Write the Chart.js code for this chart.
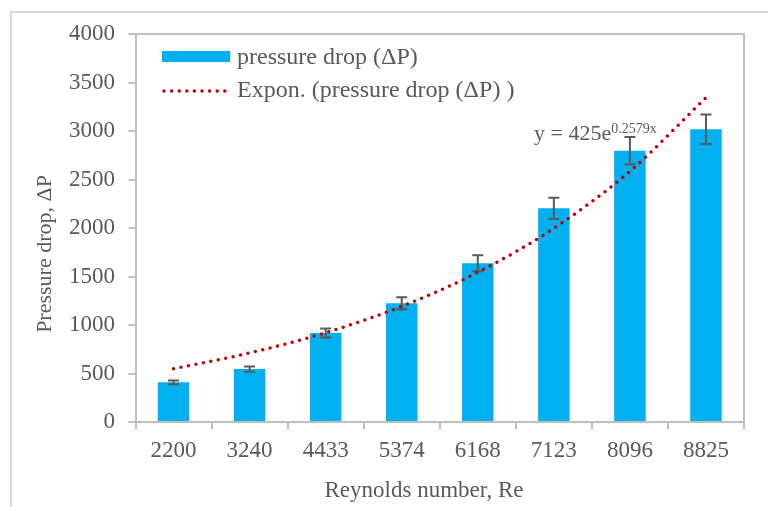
<!DOCTYPE html>
<html>
<head>
<meta charset="utf-8">
<script src="https://cdn.jsdelivr.net/npm/chart.js@4/dist/chart.umd.min.js"></script>
<style>
  html, body { margin: 0; padding: 0; background: #ffffff; }
  #wrap { position: relative; width: 768px; height: 507px; overflow: hidden; }
  canvas { position: absolute; left: 0; top: 0; }
</style>
</head>
<body>
<div id="wrap"><canvas id="chart" width="768" height="507"></canvas></div>
<script>
// Reynolds numbers (categories)
const reynolds = ['2200', '3240', '4433', '5374', '6168', '7123', '8096', '8825'];
// Measured pressure drop for each Reynolds number
const pressureDrop = [409, 546, 918, 1224, 1637, 2203, 2797, 3018];
// Error bar half-heights
const pressureError = [20, 27, 46, 61, 82, 110, 140, 151];
// Exponential trendline evaluated at each category
const trendValues = [550, 712, 921, 1192, 1543, 1997, 2585, 3345];
// Y axis range
const yMin = 0;
const yMax = 4000;
const yStep = 500;
// Text
const seriesLabel = 'pressure drop (\u0394P)';
const trendLabel = 'Expon. (pressure drop (\u0394P) )';
const equationMain = 'y = 425e';
const equationExp = '0.2579x';
const xTitle = 'Reynolds number, Re';
const yTitle = 'Pressure drop, \u0394P';

const FONT = '"Liberation Serif", "Times New Roman", Times, serif';
const TEXT = '#595959';
const AXIS = '#bfbfbf';
const BAR = '#00b0f0';
const TREND = '#c00000';

// Background, outer frame and plot-area box
const framePlugin = {
  id: 'frame',
  beforeDraw(chart) {
    const ctx = chart.ctx;
    ctx.save();
    ctx.fillStyle = '#ffffff';
    ctx.fillRect(0, 0, chart.width, chart.height);
    ctx.strokeStyle = '#d9d9d9';
    ctx.lineWidth = 2;
    ctx.beginPath();
    ctx.moveTo(11, chart.height + 2);
    ctx.lineTo(11, 12);
    ctx.lineTo(chart.width + 2, 12);
    ctx.stroke();
    ctx.restore();
  },
  afterDraw(chart) {
    const a = chart.chartArea;
    const ctx = chart.ctx;
    ctx.save();
    ctx.strokeStyle = AXIS;
    ctx.lineWidth = 2;
    ctx.beginPath();
    ctx.moveTo(a.left, a.top);
    ctx.lineTo(a.right, a.top);
    ctx.lineTo(a.right, a.bottom);
    ctx.stroke();
    ctx.restore();
  }
};

// Error bars on the bar series
const errorBarPlugin = {
  id: 'errorBars',
  afterDatasetDraw(chart, args) {
    if (args.index !== 0) return;
    const ctx = chart.ctx;
    const y = chart.scales.y;
    const cap = 5.5;
    ctx.save();
    ctx.strokeStyle = '#595959';
    ctx.lineWidth = 2;
    args.meta.data.forEach((bar, i) => {
      const v = pressureDrop[i];
      const e = pressureError[i];
      const yt = y.getPixelForValue(v + e);
      const yb = y.getPixelForValue(v - e);
      ctx.beginPath();
      ctx.moveTo(bar.x, yt);
      ctx.lineTo(bar.x, yb);
      ctx.moveTo(bar.x - cap, yt);
      ctx.lineTo(bar.x + cap, yt);
      ctx.moveTo(bar.x - cap, yb);
      ctx.lineTo(bar.x + cap, yb);
      ctx.stroke();
    });
    ctx.restore();
  }
};

// Legend inside the plot area, trend equation and axis titles
const annotatePlugin = {
  id: 'annotate',
  afterDraw(chart) {
    const ctx = chart.ctx;
    ctx.save();
    ctx.fillStyle = TEXT;
    ctx.textBaseline = 'middle';
    ctx.textAlign = 'left';
    ctx.font = '24px ' + FONT;

    // legend row 1: bar swatch
    ctx.fillStyle = BAR;
    ctx.fillRect(162, 51, 68, 11);
    ctx.fillStyle = TEXT;
    ctx.fillText(chart.data.datasets[0].label, 237, 58);

    // legend row 2: dotted trend sample
    ctx.save();
    ctx.strokeStyle = TREND;
    ctx.lineWidth = 3.5;
    ctx.lineCap = 'round';
    ctx.setLineDash([0, 7.6]);
    ctx.beginPath();
    ctx.moveTo(164, 91);
    ctx.lineTo(230, 91);
    ctx.stroke();
    ctx.restore();
    ctx.fillText(chart.data.datasets[1].label, 237, 91);

    // trend equation
    ctx.textBaseline = 'alphabetic';
    ctx.font = '22px ' + FONT;
    ctx.fillText(equationMain, 534, 140);
    const w = ctx.measureText(equationMain).width;
    ctx.font = '14px ' + FONT;
    ctx.fillText(equationExp, 534 + w, 132.5);

    // axis titles
    ctx.font = '23px ' + FONT;
    ctx.textAlign = 'center';
    ctx.fillText(xTitle, 424, 497);
    ctx.font = '22px ' + FONT;
    ctx.save();
    ctx.translate(51, 254);
    ctx.rotate(-Math.PI / 2);
    ctx.fillText(yTitle, 0, 0);
    ctx.restore();

    ctx.restore();
  }
};

new Chart(document.getElementById('chart'), {
  data: {
    labels: reynolds,
    datasets: [
      {
        type: 'bar',
        label: seriesLabel,
        data: pressureDrop,
        backgroundColor: BAR,
        borderWidth: 0,
        categoryPercentage: 1,
        barPercentage: 0.414,
        order: 1
      },
      {
        type: 'line',
        label: trendLabel,
        data: trendValues,
        borderColor: TREND,
        backgroundColor: TREND,
        borderWidth: 3.5,
        borderCapStyle: 'round',
        borderDash: [0, 7.6],
        pointRadius: 0,
        fill: false,
        cubicInterpolationMode: 'monotone',
        order: 0
      }
    ]
  },
  options: {
    responsive: false,
    devicePixelRatio: 1,
    animation: false,
    layout: { padding: { left: 0, top: 34, right: 24, bottom: 0 } },
    plugins: {
      legend: { display: false },
      tooltip: { enabled: false }
    },
    scales: {
      x: {
        type: 'category',
        offset: true,
        grid: {
          offset: true,
          drawOnChartArea: false,
          drawTicks: true,
          tickLength: 7,
          color: AXIS,
          lineWidth: 2
        },
        border: { display: true, color: AXIS, width: 2 },
        ticks: {
          color: TEXT,
          font: { family: FONT, size: 23 },
          padding: 8,
          maxRotation: 0,
          autoSkip: false
        },
        afterFit(scale) { scale.height = 85; }
      },
      y: {
        min: yMin,
        max: yMax,
        grid: {
          drawOnChartArea: false,
          drawTicks: true,
          tickLength: 7,
          color: AXIS,
          lineWidth: 2
        },
        border: { display: true, color: AXIS, width: 2 },
        ticks: {
          stepSize: yStep,
          color: TEXT,
          font: { family: FONT, size: 23 },
          padding: 13.5,
          callback: (value) => String(value)
        },
        afterFit(scale) { scale.width = 135.5; }
      }
    }
  },
  plugins: [framePlugin, errorBarPlugin, annotatePlugin]
});
</script>
</body>
</html>
